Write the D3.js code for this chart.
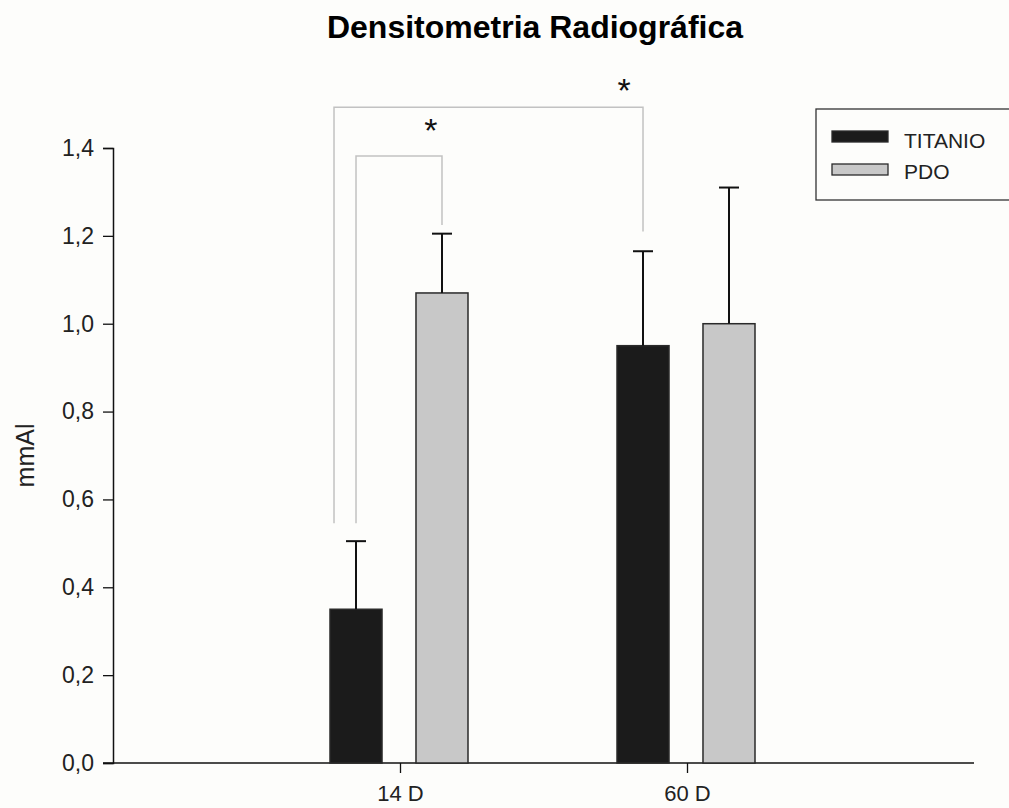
<!DOCTYPE html>
<html>
<head>
<meta charset="utf-8">
<script src="https://cdn.jsdelivr.net/npm/d3@7"></script>
<style>
  body { margin: 0; background: #fdfdfb; }
  svg { display: block; font-family: "Liberation Sans", Arial, sans-serif; }
</style>
</head>
<body>
<div id="chart"></div>
<script>
// data
const groups = ["14 D", "60 D"];
const series = ["TITANIO", "PDO"];
const titanio = [0.35, 0.95];
const titanioErr = [0.155, 0.215];
const pdo = [1.07, 1.00];
const pdoErr = [0.135, 0.31];
const yTicks = [0, 0.2, 0.4, 0.6, 0.8, 1.0, 1.2, 1.4];
const colors = {"TITANIO": "#1b1b1b", "PDO": "#c8c8c8"};

const width = 1009, height = 808;
const margin = {left: 113, right: 35, top: 148, bottom: 45};

let svg = d3.select("#chart")
    .append("svg")
    .attr("width", width)
    .attr("height", height);

svg.append("rect").attr("width", width).attr("height", height).attr("fill", "#fdfdfb");

let x = d3.scaleLinear()
    .domain([0, groups.length + 1])
    .range([margin.left, width - margin.right]);

let xs = d3.scaleBand()
    .domain(series)
    .range([-70, 68])
    .paddingInner(0.395);

let y = d3.scaleLinear()
    .domain([0, 1.4])
    .range([height - margin.bottom, margin.top]);

const gx = i => x(i + 1);

// rows for the bars
let rows = [];
groups.forEach((g, i) => {
    rows.push({g: i, s: "TITANIO", v: titanio[i], e: titanioErr[i]});
    rows.push({g: i, s: "PDO", v: pdo[i], e: pdoErr[i]});
});

// y axis
let yAxis = svg.append("g")
    .attr("transform", `translate(${margin.left},0)`)
    .call(d3.axisLeft(y).tickValues(yTicks).tickSize(10).tickPadding(9)
        .tickFormat(d => d3.format(".1f")(d).replace(".", ",")));
yAxis.select(".domain").attr("stroke", "#111").attr("stroke-width", 1.5);
yAxis.selectAll(".tick line").attr("stroke", "#111").attr("stroke-width", 1.3);
yAxis.selectAll("text").style("font-size", "23px").attr("fill", "#222");

// x axis
let xAxis = svg.append("g")
    .attr("transform", `translate(0,${y(0)})`)
    .call(d3.axisBottom(x).tickValues([1, 2]).tickSize(10).tickPadding(12)
        .tickFormat(d => groups[d - 1]));
xAxis.select(".domain")
    .attr("d", `M${margin.left - 10},0H${width - margin.right}`)
    .attr("stroke", "#111").attr("stroke-width", 1.5);
xAxis.selectAll(".tick line").attr("stroke", "#111").attr("stroke-width", 1.3);
xAxis.selectAll("text").style("font-size", "22px").attr("fill", "#222");

// bars
svg.append("g").selectAll("rect")
    .data(rows)
    .enter()
    .append("rect")
    .attr("x", d => gx(d.g) + xs(d.s))
    .attr("y", d => y(d.v))
    .attr("width", xs.bandwidth())
    .attr("height", d => y(0) - y(d.v))
    .attr("fill", d => colors[d.s])
    .attr("stroke", "#2a2a2a")
    .attr("stroke-width", 1.5);

// error bars (upper only)
let err = svg.append("g").attr("stroke", "#111").attr("stroke-width", 2);
rows.forEach(d => {
    let cx = gx(d.g) + xs(d.s) + xs.bandwidth() / 2;
    err.append("line").attr("x1", cx).attr("x2", cx)
        .attr("y1", y(d.v)).attr("y2", y(d.v + d.e));
    err.append("line").attr("x1", cx - 10).attr("x2", cx + 10)
        .attr("y1", y(d.v + d.e)).attr("y2", y(d.v + d.e));
});

// significance brackets, star placed left of the right leg
const brackets = [
    {from: [0, "TITANIO", -22], to: [1, "TITANIO", 0], top: 1.493, left: 0.546, right: 1.21, sx: -19, sy: 5},
    {from: [0, "TITANIO", 0], to: [0, "PDO", 0], top: 1.382, left: 0.546, right: 1.225, sx: -11, sy: 14}
];
let br = svg.append("g").attr("fill", "none").attr("stroke", "#c2c2c2").attr("stroke-width", 1.5);
brackets.forEach(b => {
    let x1 = gx(b.from[0]) + xs(b.from[1]) + xs.bandwidth() / 2 + b.from[2];
    let x2 = gx(b.to[0]) + xs(b.to[1]) + xs.bandwidth() / 2 + b.to[2];
    br.append("path")
        .attr("d", `M${x1},${y(b.left)}V${y(b.top)}H${x2}V${y(b.right)}`);
    svg.append("text")
        .attr("x", x2 + b.sx)
        .attr("y", y(b.top) - b.sy)
        .style("font-size", "34px")
        .style("text-anchor", "middle")
        .attr("fill", "#111")
        .text("*");
});

// title
svg.append("text")
    .attr("x", 535)
    .attr("y", 38)
    .style("text-anchor", "middle")
    .style("font-size", "32px")
    .style("font-weight", "bold")
    .attr("fill", "#000")
    .text("Densitometria Radiográfica");

// y label
svg.append("text")
    .attr("transform", `translate(34, ${(y(0) + y(1.4)) / 2}) rotate(-90)`)
    .style("text-anchor", "middle")
    .style("font-size", "25px")
    .attr("fill", "#222")
    .text("mmAl");

// legend
let legend = svg.append("g");
legend.append("rect")
    .attr("x", 816).attr("y", 109)
    .attr("width", 210).attr("height", 91)
    .attr("fill", "#fdfdfb").attr("stroke", "#333").attr("stroke-width", 1.3);
series.forEach((s, i) => {
    legend.append("rect")
        .attr("x", 832).attr("y", 131 + i * 33)
        .attr("width", 56).attr("height", 11)
        .attr("fill", colors[s]).attr("stroke", "#2a2a2a").attr("stroke-width", 1.3);
    legend.append("text")
        .attr("x", 904).attr("y", 148 + i * 31)
        .style("font-size", "21px")
        .attr("fill", "#222")
        .text(s);
});
</script>
</body>
</html>
